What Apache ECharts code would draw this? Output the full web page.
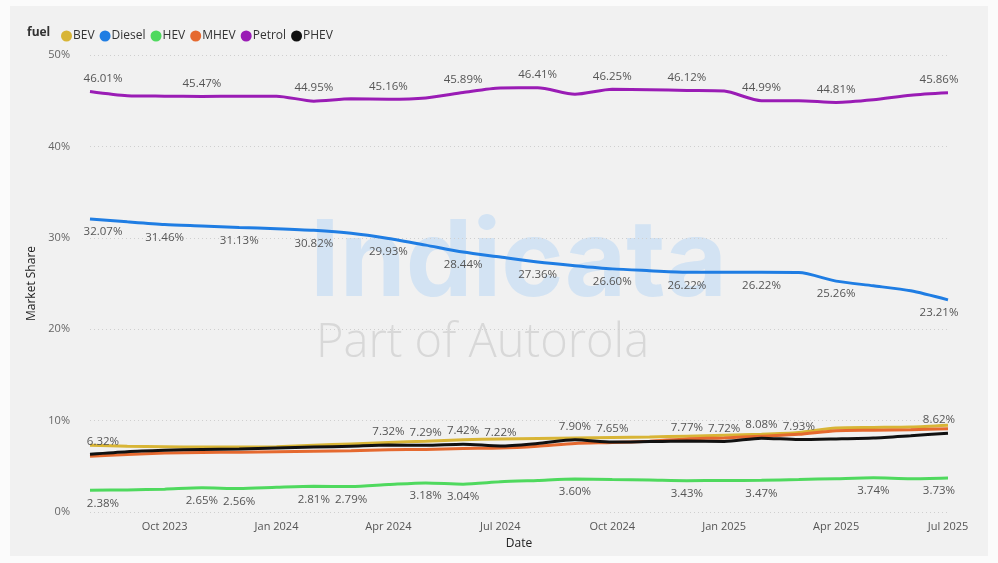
<!DOCTYPE html>
<html>
<head>
<meta charset="utf-8">
<script src="https://cdn.jsdelivr.net/npm/echarts@6/dist/echarts.min.js"></script>
<style>
html,body{margin:0;padding:0;background:#fbfbfb;}
#chart{width:998px;height:563px;}
</style>
</head>
<body>
<div id="chart"></div>
<script>
// ---- data ----
var months = ['Aug 2023','Sep 2023','Oct 2023','Nov 2023','Dec 2023','Jan 2024','Feb 2024','Mar 2024','Apr 2024','May 2024','Jun 2024','Jul 2024',
              'Aug 2024','Sep 2024','Oct 2024','Nov 2024','Dec 2024','Jan 2025','Feb 2025','Mar 2025','Apr 2025','May 2025','Jun 2025','Jul 2025'];
var seriesNames = ['BEV','Diesel','HEV','MHEV','Petrol','PHEV'];
var bev    = [7.30,7.20,7.15,7.10,7.10,7.15,7.30,7.45,7.60,7.75,7.90,8.00,8.05,8.10,8.15,8.20,8.30,8.40,8.50,8.70,9.20,9.25,9.30,9.50];
var diesel = [32.07,31.75,31.46,31.30,31.13,31.00,30.82,30.50,29.93,29.20,28.44,27.90,27.36,26.95,26.60,26.40,26.22,26.22,26.22,26.20,25.26,24.75,24.20,23.21];
var hev    = [2.38,2.42,2.50,2.65,2.56,2.70,2.81,2.79,3.00,3.18,3.04,3.30,3.45,3.60,3.55,3.50,3.43,3.45,3.47,3.55,3.65,3.74,3.65,3.73];
var mhev   = [6.10,6.30,6.45,6.50,6.55,6.60,6.65,6.70,6.80,6.85,6.95,7.00,7.20,7.50,7.60,7.75,8.00,8.10,8.30,8.50,8.90,8.95,9.00,9.10];
var petrol = [46.01,45.55,45.50,45.47,45.50,45.50,44.95,45.20,45.16,45.30,45.89,46.40,46.41,45.70,46.25,46.20,46.12,46.05,44.99,45.00,44.81,45.10,45.60,45.86];
var phev   = [6.32,6.60,6.75,6.85,6.90,7.00,7.10,7.20,7.32,7.29,7.42,7.22,7.50,7.90,7.65,7.70,7.77,7.72,8.08,7.93,8.00,8.10,8.35,8.62];
// which points carry a data label
var dieselLabelIdx = [0,2,4,6,8,10,12,14,16,18,20,23];
var hevLabelIdx    = [0,3,4,6,7,9,10,13,16,18,21,23];
var petrolLabelIdx = [0,3,6,8,10,12,14,16,18,20,23];
var phevLabelIdx   = [0,8,9,10,11,13,14,16,17,18,19,23];
var yTicks = [0,10,20,30,40,50];
var tickMonths = ['Oct 2023','Jan 2024','Apr 2024','Jul 2024','Oct 2024','Jan 2025','Apr 2025','Jul 2025'];

var colors = {BEV:'#d8b536',Diesel:'#1f7de3',HEV:'#4fd95e',MHEV:'#e5692f',Petrol:'#9a1cb5',PHEV:'#111111'};
var FONT = '"Open Sans", "Noto Sans", sans-serif';

function buildData(values, labelIdx, pos){
  return values.map(function(v,i){
    var item = {value: v};
    if (labelIdx && labelIdx.indexOf(i) >= 0) {
      item.label = {show: true, position: pos};
    }
    return item;
  });
}

var dataMap = {BEV:bev, Diesel:diesel, HEV:hev, MHEV:mhev, Petrol:petrol, PHEV:phev};
var labelMap = {Diesel:[dieselLabelIdx,'bottom'], HEV:[hevLabelIdx,'bottom'], Petrol:[petrolLabelIdx,'top'], PHEV:[phevLabelIdx,'top']};
var lastIdx = months.length - 1;

var series = seriesNames.map(function(n){
  var lm = labelMap[n];
  return {
    name: n, type: 'line', symbol: 'circle', symbolSize: 0, showSymbol: true, smooth: 0.25,
    data: buildData(dataMap[n], lm ? lm[0] : null, lm ? lm[1] : 'top'),
    lineStyle: {width: 3, color: colors[n]},
    itemStyle: {color: colors[n]},
    label: {show: false, formatter: function(p){ return Number(p.value).toFixed(2) + '%'; },
            fontFamily: FONT, fontSize: 11.5, color: '#555', distance: 7},
    emphasis: {disabled: true},
    labelLayout: function(p){
      if (p.dataIndex === 0) return {dx: 13, hideOverlap: false};
      if (p.dataIndex === lastIdx) return {dx: -9, hideOverlap: false};
      return {hideOverlap: false};
    },
    z: n === 'PHEV' ? 5 : 3
  };
});

var chart = echarts.init(document.getElementById('chart'));
chart.setOption({
  backgroundColor: '#fbfbfb',
  animation: false,
  graphic: [
    {type:'rect', left: 10, top: 6, shape:{width: 978, height: 550}, style:{fill:'#f1f1f1'}, z: -10},
    {type:'text', left: 310, top: 211, style:{text:'Indicata', font:'700 106px Inter, "Open Sans", sans-serif', fill:'#d3e3f3'}, z: -5},
    {type:'text', left: 316, top: 320, style:{text:'Part of Autorola', font:'300 47px "Open Sans", sans-serif', fill:'#d8d8d8'}, z: -5}
  ],
  legend: {
    left: 56, top: 25, icon: 'circle', itemWidth: 11, itemHeight: 11, itemGap: 5,
    data: seriesNames,
    textStyle: {fontFamily: FONT, fontSize: 12, color: '#333', padding: [0,0,0,-4]}
  },
  title: {text: 'fuel', left: 22, top: 22, textStyle:{fontFamily: FONT, fontSize: 12, fontWeight: 'bold', color: '#333'}},
  grid: {left: 90, right: 50, top: 55, bottom: 51},
  xAxis: {
    type: 'category', boundaryGap: false, data: months,
    name: 'Date', nameLocation: 'middle', nameGap: 26,
    nameTextStyle: {fontFamily: FONT, fontSize: 12, color: '#222', fontWeight: 500},
    axisLine: {show: false}, axisTick: {show: false},
    axisLabel: {
      interval: function(i, v){ return tickMonths.indexOf(v) >= 0; },
      fontFamily: FONT, fontSize: 11, color: '#555', margin: 9
    },
    splitLine: {show: false}
  },
  yAxis: {
    type: 'value', min: yTicks[0], max: yTicks[yTicks.length-1], interval: 10,
    name: 'Market Share', nameLocation: 'middle', nameGap: 41,
    nameTextStyle: {fontFamily: FONT, fontSize: 12, color: '#222'},
    axisLine: {show: false}, axisTick: {show: false},
    axisLabel: {formatter: '{value}%', fontFamily: FONT, fontSize: 11, color: '#666', margin: 20},
    splitLine: {show: true, lineStyle: {type: [1,3], color: '#cfcfcf', width: 1}}
  },
  series: series
});
</script>
</body>
</html>
